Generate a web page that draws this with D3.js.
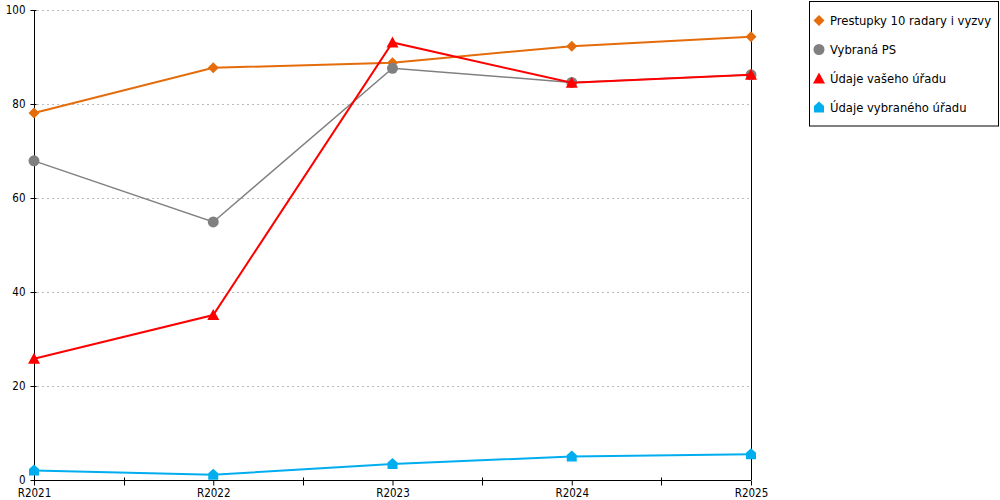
<!DOCTYPE html>
<html lang="cs">
<head>
<meta charset="utf-8">
<title>Graf</title>
<style>
  body { margin: 0; background: #fff; }
  svg { display: block; }
  text { font-family: "DejaVu Sans Condensed", "DejaVu Sans", sans-serif; font-size: 11.5px; fill: #000; }
  .legend text { font-family: "DejaVu Sans", sans-serif; font-size: 11.6px; }
</style>
<script src="https://cdn.jsdelivr.net/npm/d3@7"></script>
</head>
<body>
<script>
// data
var categories = ["R2021", "R2022", "R2023", "R2024", "R2025"];
var yTicks = [0, 20, 40, 60, 80, 100];

var prestupky = [78.1, 87.7, 88.8, 92.3, 94.3];
var vybranaPS = [67.9, 54.9, 87.6, 84.6, 86.2];
var vasehoUradu = [25.8, 35.1, 93.1, 84.5, 86.2];
var vybranehoUradu = [2.0, 1.1, 3.4, 5.0, 5.5];

var seriesNames = ["Prestupky 10 radary i vyzvy", "Vybraná PS", "Údaje vašeho úřadu", "Údaje vybraného úřadu"];

var series = [
  {name: seriesNames[0], values: prestupky, color: "#E46C0A", width: 2, shape: "diamond"},
  {name: seriesNames[1], values: vybranaPS, color: "#808080", width: 1.5, shape: "circle"},
  {name: seriesNames[2], values: vasehoUradu, color: "#FF0000", width: 2, shape: "triangle"},
  {name: seriesNames[3], values: vybranehoUradu, color: "#00AEEF", width: 2, shape: "house"}
];

var width = 1000, height = 500;
var mLeft = 34, mRight = 751, mTop = 10, mBottom = 480;

var svg = d3.select("body").append("svg")
  .attr("width", width)
  .attr("height", height);

var x = d3.scalePoint().domain(categories).range([mLeft, mRight]);
var y = d3.scaleLinear().domain([0, 100]).range([mBottom, mTop]);

// grid
svg.append("g").selectAll("line")
  .data(yTicks.filter(function(d){ return d > 0; }))
  .enter().append("line")
  .attr("x1", mLeft + 3).attr("x2", mRight)
  .attr("y1", function(d){ return y(d) + 0.5; })
  .attr("y2", function(d){ return y(d) + 0.5; })
  .attr("stroke", "#bbb")
  .attr("stroke-dasharray", "2,3");

// y axis
var yAxis = d3.axisLeft(y).tickValues(yTicks).tickSize(4).tickPadding(5);
var gy = svg.append("g").attr("transform", "translate(" + (mLeft + 0.5) + ",0)").call(yAxis);
gy.select(".domain").attr("d", "M0," + mTop + "V" + mBottom);
gy.selectAll(".tick line").attr("x2", -4).attr("x1", 2);
gy.selectAll(".tick text").style("font-size", "11.5px").style("font-family", null);

// right border line
svg.append("line")
  .attr("x1", mRight + 0.5).attr("x2", mRight + 0.5)
  .attr("y1", mTop).attr("y2", mBottom)
  .attr("stroke", "#000");

// x axis
var xAxis = d3.axisBottom(x).tickSize(5).tickPadding(3);
var gx = svg.append("g").attr("transform", "translate(0," + (mBottom + 0.5) + ")").call(xAxis);
gx.select(".domain").attr("d", "M" + mLeft + ",0H" + mRight);
gx.selectAll(".tick text").style("font-size", "11.5px").style("font-family", null);

// minor ticks between categories
var mids = [];
for (var i = 0; i < categories.length - 1; i++) {
  mids.push((x(categories[i]) + x(categories[i + 1])) / 2);
}
gx.selectAll(".minor").data(mids).enter().append("line")
  .attr("class", "minor")
  .attr("x1", function(d){ return Math.round(d) + 0.5; })
  .attr("x2", function(d){ return Math.round(d) + 0.5; })
  .attr("y1", -3).attr("y2", 5)
  .attr("stroke", "#000");

// marker shapes
function markerPath(shape) {
  if (shape === "diamond") return "M0,-5.5L5.5,0L0,5.5L-5.5,0Z";
  if (shape === "circle") return d3.symbol().type(d3.symbolCircle).size(95)();
  if (shape === "triangle") return "M0,-6L6,5L-6,5Z";
  if (shape === "house") return "M0,-6L5,-1.5L5,5L-5,5L-5,-1.5Z";
}

var line = d3.line()
  .x(function(d, i){ return x(categories[i]); })
  .y(function(d){ return y(d); });

series.forEach(function(s) {
  var g = svg.append("g");
  g.append("path")
    .attr("d", line(s.values))
    .attr("fill", "none")
    .attr("stroke", s.color)
    .attr("stroke-width", s.width);
  g.selectAll("path.m").data(s.values).enter().append("path")
    .attr("class", "m")
    .attr("d", markerPath(s.shape))
    .attr("transform", function(d, i){ return "translate(" + x(categories[i]) + "," + y(d) + ")"; })
    .attr("fill", s.color);
});

// legend
var legend = svg.append("g").attr("class", "legend");
legend.append("rect")
  .attr("x", 809.5).attr("y", 1.5)
  .attr("width", 189).attr("height", 124.5)
  .attr("fill", "#fff").attr("stroke", "#000");

var items = legend.selectAll("g.item").data(series).enter().append("g")
  .attr("class", "item")
  .attr("transform", function(d, i){ return "translate(819," + (20.5 + i * 29) + ")"; });
items.append("path")
  .attr("d", function(d){ return markerPath(d.shape); })
  .attr("fill", function(d){ return d.color; });
items.append("text")
  .attr("x", 11).attr("y", 4.5)
  .text(function(d){ return d.name; });
</script>
</body>
</html>
